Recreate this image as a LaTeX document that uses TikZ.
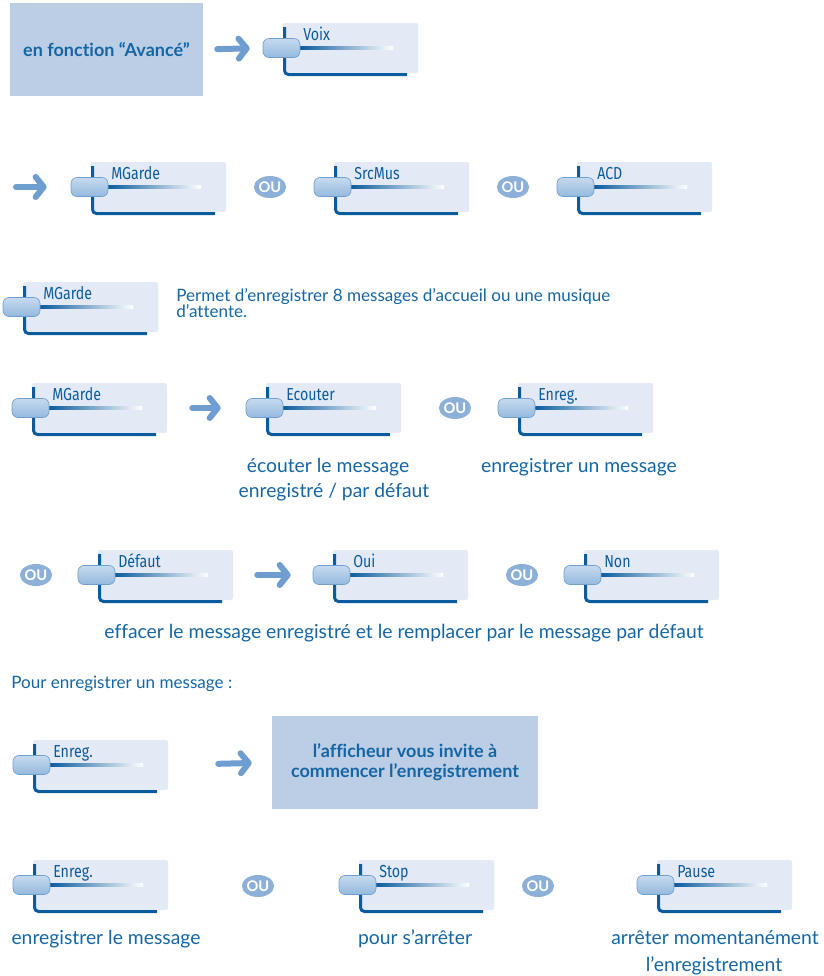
\documentclass[tikz,border=0pt]{standalone}
\usepackage{fontspec}
\setmainfont{Lato}[Ligatures=NoCommon]
\newfontfamily\lcd[FakeStretch=0.82]{Fira Sans}
\usetikzlibrary{arrows.meta,shapes.geometric}
\definecolor{textblue}{HTML}{1565A3}
\definecolor{darkline}{HTML}{0B5C9E}
\definecolor{panelfill}{HTML}{E4EAF5}
\definecolor{boxfill}{HTML}{BCCEE6}
\definecolor{arrowcol}{HTML}{6E9ECF}
\definecolor{oufill}{HTML}{8DB0D9}
\definecolor{btntop}{HTML}{C6DAEE}
\definecolor{btnbot}{HTML}{94B9DE}
\definecolor{btnedge}{HTML}{6F9FCF}
\tikzset{
  panelnode/.style={inner sep=0, minimum width=101.25pt, minimum height=37.5pt, fill=panelfill, rounded corners=1.5pt},
  btnnode/.style={inner sep=0, minimum width=27.75pt, minimum height=14.25pt, rounded corners=4.5pt, top color=btntop, bottom color=btnbot, draw=btnedge, line width=0.5pt},
  lcdlabel/.style={inner sep=0, anchor=base west, text=darkline, font=\lcd\fontsize{13}{13}\selectfont},
  softkey/.pic={
    \node[panelnode] (-panel) at (67.5,25) {};
    \shade[left color=darkline, right color=white] (17,23.6) rectangle (110,26.4);
    \draw[darkline, line width=2.25pt, rounded corners=3pt] (1.5,4) -- (1.5,51.5) -- (124,51.5);
    \node[btnnode] (-btn) at (-1.5,25) {};
    \node[lcdlabel] (-lbl) at (20,17.5) {#1};
  },
  bluebox/.style={fill=boxfill, inner sep=0, align=center, text=textblue, font=\fontsize{13.5}{15}\selectfont\bfseries},
  ou/.style={ellipse, fill=oufill, text=white, inner sep=0, minimum width=23pt, minimum height=16.5pt, font=\fontsize{11}{11}\selectfont\bfseries},
  bigarrow/.style={draw=arrowcol, line width=4.5pt, line cap=round, -{Straight Barb[length=6pt,width=15pt,round]}},
  caption/.style={inner sep=0, anchor=base, text=textblue, font=\fontsize{14.5}{14.5}\selectfont},
  smalltext/.style={inner sep=0, anchor=base west, text=textblue, font=\fontsize{12.8}{12.8}\selectfont},
}
\begin{document}
\begin{tikzpicture}[x=0.75pt,y=-0.75pt]
\useasboundingbox (0,0) rectangle (824,976);

% row 1
\node[bluebox, minimum width=144.75pt, minimum height=69.75pt] (avance) at (106.5,49.5) {en fonction “Avancé”};
\pic (voix) at (283,23) {softkey=Voix};
\draw[bigarrow, shorten <=10.5pt, shorten >=9.75pt] (avance.east) -- (voix-btn.west);

% row 2
\coordinate (start2) at (16,187);
\pic (mg1) at (91,162) {softkey=MGarde};
\pic (src) at (334,162) {softkey=SrcMus};
\pic (acd) at (577,162) {softkey=ACD};
\node[ou] (ou1) at (270,187) {OU};
\node[ou] (ou2) at (513,187) {OU};
\draw[bigarrow, shorten >=18pt] (start2) -- (mg1-btn.west);

% row 3
\pic (mg3) at (23,282) {softkey=MGarde};
\node[smalltext] (desc1) at (176,301) {Permet d’enregistrer 8 messages d’accueil ou une musique};
\node[smalltext] (desc2) at (176,317) {d’attente.};

% row 4
\pic (mg2) at (32,383) {softkey=MGarde};
\pic (ecout) at (266,383) {softkey=Ecouter};
\pic (enr1) at (518,383) {softkey=Enreg.};
\node[ou] (ou3) at (455,408) {OU};
\draw[bigarrow, shorten <=18.75pt, shorten >=18.75pt] (mg2-panel.east) -- (ecout-btn.west);
\node[caption] (cap1a) at (328,472) {écouter le message};
\node[caption] (cap1b) at (334,497) {enregistré / par défaut};
\node[caption] (cap2) at (579,472) {enregistrer un message};

% row 5
\node[ou] (ou4) at (36,575) {OU};
\pic (def) at (98,550) {softkey=Défaut};
\pic (oui) at (333,550) {softkey=Oui};
\pic (non) at (584,550) {softkey=Non};
\node[ou] (ou5) at (522,575) {OU};
\draw[bigarrow, shorten <=18pt, shorten >=16.5pt] (def-panel.east) -- (oui-btn.west);
\node[caption] (cap3) at (404,638) {effacer le message enregistré et le remplacer par le message par défaut};

% row 6
\node[smalltext] (pour) at (11,688) {Pour enregistrer un message :};

% row 7
\pic (enr2) at (33,740) {softkey=Enreg.};
\node[bluebox, minimum width=199.5pt, minimum height=69.75pt] (invite) at (405,762.5) {l’afficheur vous invite à\\commencer l’enregistrement};
\draw[bigarrow, shorten <=37.5pt, shorten >=15pt] (enr2-panel.east) -- (invite.west);

% row 8
\pic (enr3) at (33,860) {softkey=Enreg.};
\pic (stop) at (359,860) {softkey=Stop};
\pic (pause) at (657,860) {softkey=Pause};
\node[ou] (ou6) at (258,886) {OU};
\node[ou] (ou7) at (538,886) {OU};
\node[caption] (cap4) at (106,944) {enregistrer le message};
\node[caption] (cap5) at (415,944) {pour s’arrêter};
\node[caption] (cap6a) at (715,944) {arrêter momentanément};
\node[caption] (cap6b) at (714,971) {l’enregistrement};
\end{tikzpicture}
\end{document}
